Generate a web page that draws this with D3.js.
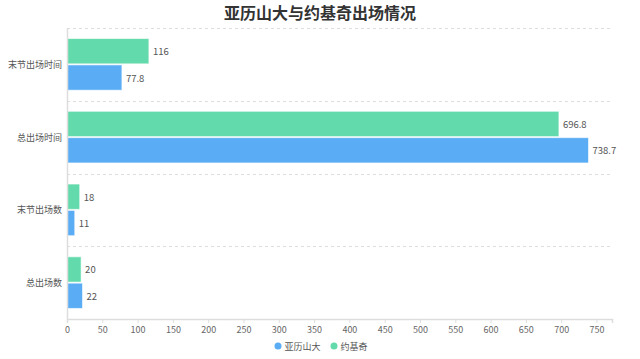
<!DOCTYPE html>
<html><head><meta charset="utf-8">
<script src="https://cdn.jsdelivr.net/npm/d3@7"></script>
<style>body{margin:0;background:#fff}svg{display:block}</style>
</head><body>
<svg id="c" width="640" height="359"></svg>
<script>
const title = "亚历山大与约基奇出场情况";
const categories = ["末节出场时间", "总出场时间", "末节出场数", "总出场数"];
const seriesNames = ["亚历山大", "约基奇"];
const alexander = [77.8, 738.7, 11, 22];
const jokic = [116, 696.8, 18, 20];
const xTicks = [0,50,100,150,200,250,300,350,400,450,500,550,600,650,700,750];
const colors = {"亚历山大": "#5AADF4", "约基奇": "#62DAAB"};

const font = "'Noto Sans CJK SC','Noto Sans',sans-serif";
const svg = d3.select("#c");
const pLeft = 67, pRight = 612, pTop = 28, pBottom = 319;

const x = d3.scaleLinear().domain([0, 772]).range([pLeft, pRight]);
const y = d3.scaleBand().domain(categories).range([pTop, pBottom]).paddingInner(0).paddingOuter(0);
const inner = d3.scaleBand().domain(["约基奇", "亚历山大"]).range([0, y.bandwidth()]).paddingOuter(0.4).paddingInner(0.04);

// title
svg.append("text").attr("x", 320).attr("y", 15).attr("text-anchor", "middle")
  .attr("dominant-baseline", "middle").attr("font-family", font).attr("font-size", 16)
  .attr("font-weight", "bold").attr("fill", "#333").text(title);

// grid lines (band boundaries)
const bounds = categories.map(c => y(c));
svg.append("g").selectAll("line").data(bounds).join("line")
  .attr("x1", pLeft).attr("x2", pRight).attr("y1", d => Math.round(d) + 0.5).attr("y2", d => Math.round(d) + 0.5)
  .attr("stroke", "#ddd").attr("stroke-dasharray", "3,3");

// bars
const rows = categories.map((c, i) => ({c, vals: [{s: "约基奇", v: jokic[i]}, {s: "亚历山大", v: alexander[i]}]}));
const g = svg.append("g");
rows.forEach(r => {
  r.vals.forEach(d => {
    const yy = y(r.c) + inner(d.s);
    g.append("rect").attr("x", x(0)).attr("y", yy).attr("width", x(d.v) - x(0)).attr("height", inner.bandwidth())
      .attr("fill", colors[d.s]).attr("stroke", "#fff").attr("stroke-opacity", 0.6).attr("stroke-width", 1);
    g.append("text").attr("x", x(d.v) + 4).attr("y", yy + inner.bandwidth() / 2)
      .attr("dominant-baseline", "central").attr("font-family", font).attr("font-size", 9.5)
      .attr("fill", "#555").text(String(d.v));
  });
});

// y axis
svg.append("line").attr("x1", pLeft + 0.5).attr("x2", pLeft + 0.5).attr("y1", pTop).attr("y2", pBottom)
  .attr("stroke", "#ddd").attr("stroke-width", 1.5);
svg.append("g").selectAll("text").data(categories).join("text")
  .attr("x", pLeft - 5).attr("y", d => y(d) + y.bandwidth() / 2)
  .attr("text-anchor", "end").attr("dominant-baseline", "central")
  .attr("font-family", font).attr("font-size", 9).attr("fill", "#555").text(d => d);

// x axis
const xa = svg.append("g").attr("transform", `translate(0,${pBottom})`)
  .call(d3.axisBottom(x).tickValues(xTicks).tickSize(4).tickPadding(4).tickFormat(d3.format("d")));
xa.select(".domain").attr("stroke", "#ddd").attr("stroke-width", 1.5);
xa.selectAll(".tick line").attr("stroke", "#ddd");
xa.selectAll(".tick text").attr("font-family", font).attr("font-size", 9).attr("fill", "#666");

// legend
const leg = svg.append("g");
const lx = [278, 334];
seriesNames.forEach((s, i) => {
  leg.append("circle").attr("cx", lx[i]).attr("cy", 346).attr("r", 3.5).attr("fill", colors[s]);
  leg.append("text").attr("x", lx[i] + 6.5).attr("y", 346).attr("dominant-baseline", "central")
    .attr("font-family", font).attr("font-size", 9).attr("fill", "#555").text(s);
});
</script>
</body></html>
